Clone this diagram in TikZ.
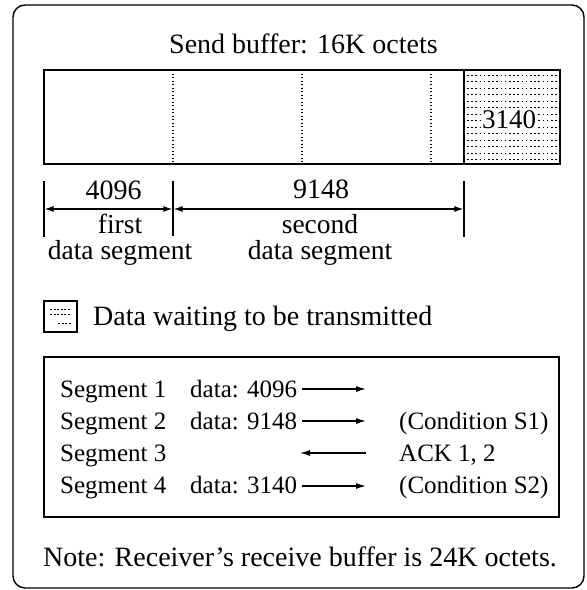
\documentclass[tikz,border=0pt]{standalone}
\usepackage{fontspec}
\setmainfont{Liberation Serif}
\usetikzlibrary{arrows.meta}
\begin{document}
\begin{tikzpicture}[x=1pt,y=-1pt,
  lbl/.style={inner sep=0pt, font=\fontsize{28}{30}\selectfont},
  twoline/.style={inner sep=0pt, align=center, font=\fontsize{27.5}{26}\selectfont},
  tbl/.style={inner sep=0pt, font=\fontsize{25}{27}\selectfont, anchor=base west},
  frame/.style={draw, line width=1.4pt},
  dotline/.style={line width=1.3pt, dash pattern=on 1.3pt off 2.2pt},
  shade/.style={line width=0.9pt, dash pattern=on 1.6pt off 2.6pt},
  tick/.style={line width=1.3pt},
  dim/.style={line width=1.2pt, {Latex[length=9pt,width=6pt]}-{Latex[length=9pt,width=6pt]}},
  flow/.style={line width=1.2pt, -{Latex[length=10pt,width=6pt]}}
]
\useasboundingbox (0,0) rectangle (587,590);
% outer frame
\draw[frame, rounded corners=12pt] (13,5) rectangle (584,588);
% title
\node[lbl, anchor=base] (title) at (303.5,53) {Send buffer: 16K octets};
% buffer coordinates
\coordinate (bnw) at (44,70);
\coordinate (bse) at (560,164);
\coordinate (d1t) at (173,70);  \coordinate (d1b) at (173,164);
\coordinate (d2t) at (302,70);  \coordinate (d2b) at (302,164);
\coordinate (d3t) at (431,70);  \coordinate (d3b) at (431,164);
\coordinate (st) at (464,70);   \coordinate (sb) at (464,164);
% shaded part
\foreach \y in {75,81.5,...,160} \draw[shade] (467,\y) -- (558,\y);
\node[lbl, fill=white, inner sep=1.5pt, font=\fontsize{27}{29}\selectfont, anchor=base] (n3140) at (509,128) {3140};
\draw[frame] (bnw) rectangle (bse);
\draw[dotline] (d1t) -- (d1b);
\draw[dotline] (d2t) -- (d2b);
\draw[dotline] (d3t) -- (d3b);
\draw[tick] (st) -- (sb);
% dimension ticks
\coordinate (t1a) at (44,181);  \coordinate (t1b) at (44,237);
\coordinate (t2a) at (173,181); \coordinate (t2b) at (173,236);
\coordinate (t3a) at (464,181); \coordinate (t3b) at (464,237);
\draw[tick] (t1a) -- (t1b);
\draw[tick] (t2a) -- (t2b);
\draw[tick] (t3a) -- (t3b);
\coordinate (m1) at (44.6,209); \coordinate (m2l) at (172.4,209);
\coordinate (m2r) at (173.6,209); \coordinate (m3) at (463.4,209);
\draw[dim] (m1) -- (m2l);
\draw[dim] (m2r) -- (m3);
\node[lbl, anchor=base] (l4096) at (113.5,199) {4096};
\node[lbl, anchor=base] (l9148) at (321,198) {9148};
\node[twoline, anchor=base] (lfirst) at (120,259.5) {first\\data segment};
\node[twoline, anchor=base] (lsecond) at (320,259.5) {second\\data segment};
% legend
\draw[line width=1.3pt] (44,301) rectangle (77,332);
\draw[line width=0.8pt, dash pattern=on 2pt off 1.5pt] (50,309) -- (71,309);
\draw[line width=0.8pt, dash pattern=on 2pt off 1.5pt] (50,314) -- (71,314);
\draw[line width=0.8pt, dash pattern=on 2pt off 1.5pt] (58,323) -- (71,323);
\node[lbl, anchor=base west] (legend) at (93,325) {Data waiting to be transmitted};
% segment table
\draw[frame] (44,357) rectangle (559,517);
\node[tbl] (s1) at (60,397) {Segment 1};
\node[tbl] (s2) at (60,429) {Segment 2};
\node[tbl] (s3) at (60,461) {Segment 3};
\node[tbl] (s4) at (60,493) {Segment 4};
\node[tbl] (d1) at (190,397) {data: 4096};
\node[tbl] (d2) at (190,429) {data: 9148};
\node[tbl] (d4) at (190,493) {data: 3140};
\coordinate (a1) at (366,389); \coordinate (a2) at (366,421);
\coordinate (a3s) at (366,453); \coordinate (a3e) at (300,453);
\coordinate (a4) at (366,486);
\draw[flow] (d1.east |- a1) ++(5,0) -- (a1);
\draw[flow] (d2.east |- a2) ++(5,0) -- (a2);
\draw[flow] (a3s) -- (a3e);
\draw[flow] (d4.east |- a4) ++(5,0) -- (a4);
\node[tbl] (c1) at (399,429) {(Condition S1)};
\node[tbl] (c2) at (399,461) {ACK 1, 2};
\node[tbl] (c3) at (399,493) {(Condition S2)};
% note
\node[lbl, anchor=base west] (note) at (43,566) {Note: Receiver’s receive buffer is 24K octets.};
\end{tikzpicture}
\end{document}
